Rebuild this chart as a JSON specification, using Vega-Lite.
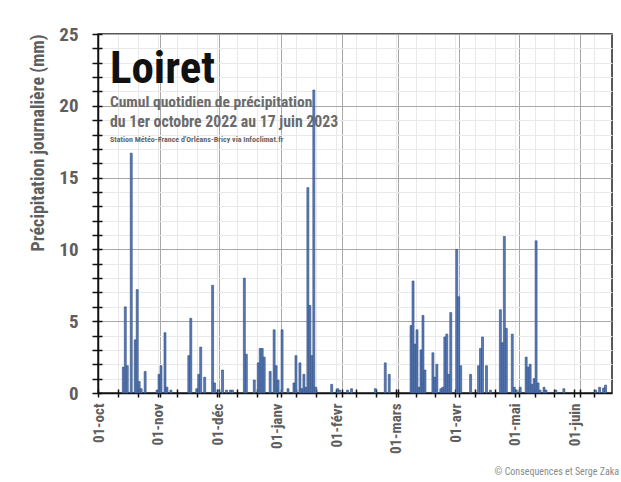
{
  "$schema": "https://vega.github.io/schema/vega-lite/v6.json",
  "width": 514,
  "height": 359,
  "autosize": "none",
  "padding": {"left": 98, "top": 34, "right": 9, "bottom": 89},
  "background": "white",
  "config": {
    "view": {"stroke": "#222222", "strokeWidth": 1.5},
    "font": "'Roboto Condensed', 'Open Sans Condensed', 'Noto Sans Condensed', 'Liberation Sans Narrow', 'DejaVu Sans Condensed', 'Liberation Sans', sans-serif"
  },
  "title": {
    "text": "© Consequences et Serge Zaka",
    "orient": "bottom",
    "anchor": "end",
    "frame": "group",
    "fontSize": 10,
    "fontWeight": "normal",
    "color": "#8a8a8a",
    "offset": 13,
    "dx": 7
  },
  "resolve": {"axis": {"x": "independent", "y": "independent"}},
  "layer": [
    {
      "data": {"values": [{"t": "Loiret"}]},
      "mark": {"type": "text", "align": "left", "baseline": "alphabetic", "fontSize": 45, "fontWeight": "bold", "color": "#111111"},
      "encoding": {
        "x": {"datum": {"year": 2022, "month": 10, "date": 7, "utc": true}, "type": "temporal",
          "axis": {"orient": "bottom", "domain": false, "labels": false, "grid": false, "title": null,
            "ticks": true, "tickSize": -4, "tickWidth": 1.5, "tickColor": "#111111",
            "values": [
              {"year":2022,"month":10,"date":1,"utc":true},{"year":2022,"month":10,"date":11,"utc":true},{"year":2022,"month":10,"date":21,"utc":true},{"year":2022,"month":10,"date":31,"utc":true},
              {"year":2022,"month":11,"date":1,"utc":true},{"year":2022,"month":11,"date":10,"utc":true},{"year":2022,"month":11,"date":20,"utc":true},{"year":2022,"month":11,"date":30,"utc":true},
              {"year":2022,"month":12,"date":1,"utc":true},{"year":2022,"month":12,"date":10,"utc":true},{"year":2022,"month":12,"date":20,"utc":true},{"year":2022,"month":12,"date":30,"utc":true},
              {"year":2023,"month":1,"date":1,"utc":true},{"year":2023,"month":1,"date":9,"utc":true},{"year":2023,"month":1,"date":19,"utc":true},{"year":2023,"month":1,"date":29,"utc":true},
              {"year":2023,"month":2,"date":1,"utc":true},{"year":2023,"month":2,"date":8,"utc":true},{"year":2023,"month":2,"date":18,"utc":true},{"year":2023,"month":2,"date":28,"utc":true},
              {"year":2023,"month":3,"date":1,"utc":true},{"year":2023,"month":3,"date":10,"utc":true},{"year":2023,"month":3,"date":20,"utc":true},{"year":2023,"month":3,"date":30,"utc":true},
              {"year":2023,"month":4,"date":1,"utc":true},{"year":2023,"month":4,"date":9,"utc":true},{"year":2023,"month":4,"date":19,"utc":true},{"year":2023,"month":4,"date":29,"utc":true},
              {"year":2023,"month":5,"date":1,"utc":true},{"year":2023,"month":5,"date":9,"utc":true},{"year":2023,"month":5,"date":19,"utc":true},{"year":2023,"month":5,"date":29,"utc":true},
              {"year":2023,"month":6,"date":1,"utc":true},{"year":2023,"month":6,"date":8,"utc":true}
            ]}},
        "y": {"datum": 21.6, "type": "quantitative",
          "axis": {"orient": "left", "domain": false, "labels": false, "grid": false, "title": null,
            "ticks": true, "tickSize": -4, "tickWidth": 1.5, "tickColor": "#111111",
            "values": [0,1,2,3,4,5,6,7,8,9,10,11,12,13,14,15,16,17,18,19,20,21,22,23,24,25]}},
        "text": {"field": "t"}
      }
    },
    {
      "data": {"values": [{"t": "Cumul quotidien de précipitation"}]},
      "mark": {"type": "text", "align": "left", "baseline": "alphabetic", "fontSize": 15.5, "fontWeight": "bold", "color": "#6b6b6b"},
      "encoding": {
        "x": {"datum": {"year": 2022, "month": 10, "date": 7, "utc": true}, "type": "temporal", "axis": null},
        "y": {"datum": 19.95, "type": "quantitative", "axis": null},
        "text": {"field": "t"}
      }
    },
    {
      "data": {"values": [{"t": "du 1er octobre 2022 au 17 juin 2023"}]},
      "mark": {"type": "text", "align": "left", "baseline": "alphabetic", "fontSize": 15.8, "fontWeight": "bold", "color": "#6b6b6b"},
      "encoding": {
        "x": {"datum": {"year": 2022, "month": 10, "date": 7, "utc": true}, "type": "temporal", "axis": null},
        "y": {"datum": 18.5, "type": "quantitative", "axis": null},
        "text": {"field": "t"}
      }
    },
    {
      "data": {"values": [{"t": "Station Météo-France d'Orléans-Bricy via Infoclimat.fr"}]},
      "mark": {"type": "text", "align": "left", "baseline": "alphabetic", "fontSize": 8, "fontWeight": "bold", "color": "#666666"},
      "encoding": {
        "x": {"datum": {"year": 2022, "month": 10, "date": 7, "utc": true}, "type": "temporal", "axis": null},
        "y": {"datum": 17.45, "type": "quantitative", "axis": null},
        "text": {"field": "t"}
      }
    },
    {
      "data": {"values": [
        {"date": "2022-10-13", "mm": 1.8}, {"date": "2022-10-14", "mm": 6.0}, {"date": "2022-10-15", "mm": 1.9},
        {"date": "2022-10-17", "mm": 16.7}, {"date": "2022-10-19", "mm": 3.7}, {"date": "2022-10-20", "mm": 7.2},
        {"date": "2022-10-21", "mm": 0.8}, {"date": "2022-10-22", "mm": 0.3}, {"date": "2022-10-24", "mm": 1.5},
        {"date": "2022-10-30", "mm": 0.2}, {"date": "2022-10-31", "mm": 1.3}, {"date": "2022-11-01", "mm": 1.9},
        {"date": "2022-11-03", "mm": 4.2}, {"date": "2022-11-04", "mm": 0.4}, {"date": "2022-11-06", "mm": 0.2},
        {"date": "2022-11-15", "mm": 2.6}, {"date": "2022-11-16", "mm": 5.2}, {"date": "2022-11-19", "mm": 0.3},
        {"date": "2022-11-20", "mm": 1.3}, {"date": "2022-11-21", "mm": 3.2}, {"date": "2022-11-23", "mm": 1.1},
        {"date": "2022-11-27", "mm": 7.5}, {"date": "2022-11-28", "mm": 0.7}, {"date": "2022-11-30", "mm": 0.2},
        {"date": "2022-12-02", "mm": 1.6}, {"date": "2022-12-04", "mm": 0.2}, {"date": "2022-12-06", "mm": 0.2},
        {"date": "2022-12-07", "mm": 0.2}, {"date": "2022-12-13", "mm": 8.0}, {"date": "2022-12-14", "mm": 2.7},
        {"date": "2022-12-18", "mm": 0.9}, {"date": "2022-12-20", "mm": 2.1}, {"date": "2022-12-21", "mm": 3.1},
        {"date": "2022-12-22", "mm": 3.1}, {"date": "2022-12-23", "mm": 2.5}, {"date": "2022-12-26", "mm": 1.5},
        {"date": "2022-12-28", "mm": 4.4}, {"date": "2022-12-29", "mm": 1.9}, {"date": "2022-12-30", "mm": 0.9},
        {"date": "2023-01-01", "mm": 4.4}, {"date": "2023-01-04", "mm": 0.3}, {"date": "2023-01-07", "mm": 0.7},
        {"date": "2023-01-08", "mm": 2.6}, {"date": "2023-01-10", "mm": 2.1}, {"date": "2023-01-11", "mm": 0.3},
        {"date": "2023-01-12", "mm": 1.3}, {"date": "2023-01-13", "mm": 0.4}, {"date": "2023-01-14", "mm": 14.3},
        {"date": "2023-01-15", "mm": 6.1}, {"date": "2023-01-16", "mm": 2.6}, {"date": "2023-01-17", "mm": 21.1},
        {"date": "2023-01-18", "mm": 0.4}, {"date": "2023-01-26", "mm": 0.6}, {"date": "2023-01-29", "mm": 0.3},
        {"date": "2023-01-30", "mm": 0.2}, {"date": "2023-02-03", "mm": 0.2}, {"date": "2023-02-05", "mm": 0.3},
        {"date": "2023-02-17", "mm": 0.3}, {"date": "2023-02-22", "mm": 2.1}, {"date": "2023-02-24", "mm": 1.3},
        {"date": "2023-03-07", "mm": 4.7}, {"date": "2023-03-08", "mm": 7.8}, {"date": "2023-03-09", "mm": 3.4},
        {"date": "2023-03-10", "mm": 4.4}, {"date": "2023-03-11", "mm": 0.4}, {"date": "2023-03-12", "mm": 3.0},
        {"date": "2023-03-13", "mm": 5.4}, {"date": "2023-03-14", "mm": 1.6}, {"date": "2023-03-18", "mm": 2.8},
        {"date": "2023-03-19", "mm": 1.1}, {"date": "2023-03-20", "mm": 2.0}, {"date": "2023-03-22", "mm": 0.3},
        {"date": "2023-03-23", "mm": 0.4}, {"date": "2023-03-24", "mm": 3.9}, {"date": "2023-03-25", "mm": 4.1},
        {"date": "2023-03-26", "mm": 1.3}, {"date": "2023-03-27", "mm": 5.6}, {"date": "2023-03-30", "mm": 10.0},
        {"date": "2023-03-31", "mm": 6.7}, {"date": "2023-04-01", "mm": 1.9}, {"date": "2023-04-06", "mm": 1.3},
        {"date": "2023-04-10", "mm": 1.9}, {"date": "2023-04-11", "mm": 3.1}, {"date": "2023-04-12", "mm": 3.9},
        {"date": "2023-04-14", "mm": 1.9}, {"date": "2023-04-16", "mm": 0.2}, {"date": "2023-04-21", "mm": 5.8},
        {"date": "2023-04-22", "mm": 3.5}, {"date": "2023-04-23", "mm": 10.9}, {"date": "2023-04-24", "mm": 4.5},
        {"date": "2023-04-27", "mm": 4.1}, {"date": "2023-04-28", "mm": 0.4}, {"date": "2023-04-29", "mm": 0.2},
        {"date": "2023-05-01", "mm": 0.4}, {"date": "2023-05-04", "mm": 2.5}, {"date": "2023-05-05", "mm": 1.8},
        {"date": "2023-05-06", "mm": 2.0}, {"date": "2023-05-07", "mm": 0.6}, {"date": "2023-05-08", "mm": 1.0},
        {"date": "2023-05-09", "mm": 10.6}, {"date": "2023-05-10", "mm": 0.7}, {"date": "2023-05-11", "mm": 0.2},
        {"date": "2023-05-13", "mm": 0.4}, {"date": "2023-05-14", "mm": 0.2}, {"date": "2023-05-19", "mm": 0.2},
        {"date": "2023-05-23", "mm": 0.3}, {"date": "2023-06-08", "mm": 0.2}, {"date": "2023-06-10", "mm": 0.4},
        {"date": "2023-06-12", "mm": 0.35}, {"date": "2023-06-13", "mm": 0.55}
      ]},
      "mark": {"type": "bar", "color": "#5a7bb6", "stroke": "#2b4a80", "strokeWidth": 0.6, "binSpacing": 0},
      "encoding": {
        "x": {"field": "date", "type": "temporal", "timeUnit": "utcyearmonthdate",
          "scale": {"type": "utc", "domain": [{"year": 2022, "month": 10, "date": 1, "utc": true}, {"year": 2023, "month": 6, "date": 17, "utc": true}]},
          "axis": {"orient": "bottom", "title": null, "domainColor": "#111111", "domainWidth": 1.5,
            "tickColor": "#111111", "tickSize": 4, "tickWidth": 1.5,
            "grid": true, "gridColor": {"condition": {"test": "utcdate(datum.value) === 1", "value": "#a8a8a8"}, "value": "#e9e9e9"},
            "gridWidth": 1,
            "labelAngle": 270, "labelPadding": 6, "labelFontSize": 15, "labelFontWeight": "bold", "labelColor": "#5e5e5e",
            "labelOverlap": false, "labelFlush": false, "labelBound": false,
            "labelExpr": "((datum.value - utc(2022,9,1)) / 86400000) % 30 === 0 ? '01-' + ['janv','févr','mars','avr','mai','juin','juil','août','sept','oct','nov','déc'][utcmonth(datum.value + 3*86400000)] : ''",
            "values": [
              {"year":2022,"month":10,"date":1,"utc":true},{"year":2022,"month":10,"date":11,"utc":true},{"year":2022,"month":10,"date":21,"utc":true},{"year":2022,"month":10,"date":31,"utc":true},
              {"year":2022,"month":11,"date":1,"utc":true},{"year":2022,"month":11,"date":10,"utc":true},{"year":2022,"month":11,"date":20,"utc":true},{"year":2022,"month":11,"date":30,"utc":true},
              {"year":2022,"month":12,"date":1,"utc":true},{"year":2022,"month":12,"date":10,"utc":true},{"year":2022,"month":12,"date":20,"utc":true},{"year":2022,"month":12,"date":30,"utc":true},
              {"year":2023,"month":1,"date":1,"utc":true},{"year":2023,"month":1,"date":9,"utc":true},{"year":2023,"month":1,"date":19,"utc":true},{"year":2023,"month":1,"date":29,"utc":true},
              {"year":2023,"month":2,"date":1,"utc":true},{"year":2023,"month":2,"date":8,"utc":true},{"year":2023,"month":2,"date":18,"utc":true},{"year":2023,"month":2,"date":28,"utc":true},
              {"year":2023,"month":3,"date":1,"utc":true},{"year":2023,"month":3,"date":10,"utc":true},{"year":2023,"month":3,"date":20,"utc":true},{"year":2023,"month":3,"date":30,"utc":true},
              {"year":2023,"month":4,"date":1,"utc":true},{"year":2023,"month":4,"date":9,"utc":true},{"year":2023,"month":4,"date":19,"utc":true},{"year":2023,"month":4,"date":29,"utc":true},
              {"year":2023,"month":5,"date":1,"utc":true},{"year":2023,"month":5,"date":9,"utc":true},{"year":2023,"month":5,"date":19,"utc":true},{"year":2023,"month":5,"date":29,"utc":true},
              {"year":2023,"month":6,"date":1,"utc":true},{"year":2023,"month":6,"date":8,"utc":true}
            ]}},
        "y": {"field": "mm", "type": "quantitative",
          "scale": {"domain": [0, 25], "nice": false},
          "axis": {"orient": "left", "title": "Précipitation journalière (mm)",
            "titleAnchor": "end", "titleFontSize": 18, "titleFontWeight": "bold", "titleColor": "#5e5e5e", "titlePadding": 11,
            "domainColor": "#111111", "domainWidth": 1.5,
            "tickColor": "#111111", "tickSize": 6, "tickWidth": 1.5,
            "grid": true, "gridColor": {"condition": {"test": "datum.value % 5 === 0", "value": "#a8a8a8"}, "value": "#e9e9e9"},
            "labelPadding": 14, "labelFontSize": 19, "labelFontWeight": "bold", "labelColor": "#5e5e5e",
            "labelOverlap": false, "labelFlush": false,
            "labelExpr": "datum.value % 5 === 0 ? datum.value : ''",
            "values": [0,1,2,3,4,5,6,7,8,9,10,11,12,13,14,15,16,17,18,19,20,21,22,23,24,25]}}
      }
    }
  ]
}
